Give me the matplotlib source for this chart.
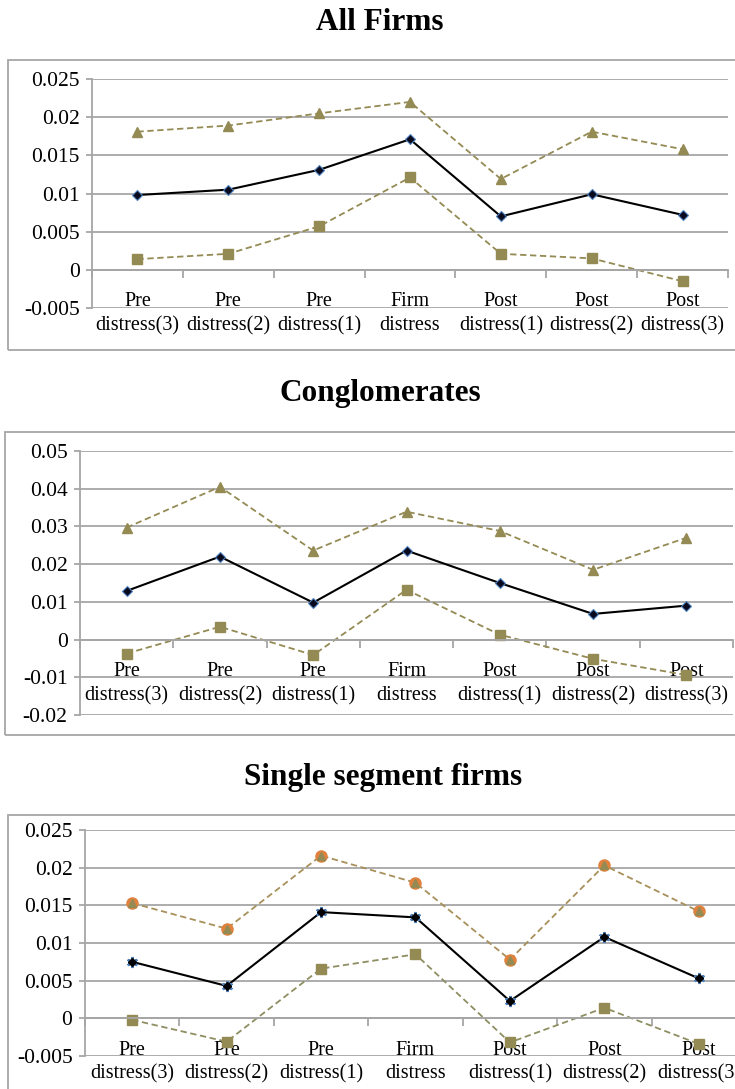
import numpy as np
import matplotlib
matplotlib.use("Agg")
import matplotlib.pyplot as plt
from matplotlib.patches import Rectangle
from matplotlib.ticker import FuncFormatter, FixedLocator

# Category labels along the event window
categories = ["Pre\ndistress(3)", "Pre\ndistress(2)", "Pre\ndistress(1)",
              "Firm\ndistress", "Post\ndistress(1)", "Post\ndistress(2)",
              "Post\ndistress(3)"]

# All firms: mean with upper and lower bounds
all_upper = [0.0181, 0.0189, 0.0205, 0.0220, 0.0119, 0.0181, 0.0158]
all_mean = [0.0098, 0.0105, 0.0131, 0.0171, 0.0070, 0.0099, 0.0072]
all_lower = [0.0014, 0.0021, 0.0057, 0.0121, 0.0021, 0.0015, -0.0015]

# Conglomerates
con_upper = [0.0297, 0.0405, 0.0236, 0.0339, 0.0288, 0.0185, 0.0270]
con_mean = [0.0129, 0.0220, 0.0098, 0.0236, 0.0150, 0.0068, 0.0090]
con_lower = [-0.0037, 0.0034, -0.0041, 0.0132, 0.0013, -0.0051, -0.0094]

# Single segment firms
ss_upper = [0.0153, 0.0119, 0.0216, 0.0180, 0.0078, 0.0203, 0.0142]
ss_mean = [0.0075, 0.0043, 0.0141, 0.0134, 0.0023, 0.0108, 0.0053]
ss_lower = [-0.0002, -0.0031, 0.0066, 0.0085, -0.0032, 0.0014, -0.0034]

W, H = 735, 1089
fig = plt.figure(figsize=(W / 100, H / 100), dpi=100)

serif = ["Liberation Serif", "DejaVu Serif"]
grid_c = "#A6A6A6"
olive = "#948A54"
dash = (0, (3.5, 2))


def px_axes(left, top, right, bottom):
    return fig.add_axes([left / W, 1 - bottom / H, (right - left) / W, (bottom - top) / H])


def box(left, top, right, bottom):
    fig.patches.append(Rectangle((left / W, 1 - bottom / H), (right - left) / W,
                                 (bottom - top) / H, transform=fig.transFigure,
                                 fill=False, edgecolor=grid_c, lw=1.3))


def setup(ax, ymin, ymax, step):
    n = len(categories)
    ax.set_xlim(0, n)
    ax.set_ylim(ymin, ymax)
    ax.set_facecolor("none")
    for s in ["top", "right"]:
        ax.spines[s].set_visible(False)
    ax.spines["left"].set_color(grid_c)
    ax.spines["left"].set_linewidth(1.3)
    ax.spines["bottom"].set_position(("data", 0))
    ax.spines["bottom"].set_color(grid_c)
    ax.spines["bottom"].set_linewidth(1.3)
    yt = np.round(np.arange(ymin, ymax + step / 2, step), 4)
    ax.set_yticks(yt)
    ax.yaxis.set_major_formatter(FuncFormatter(lambda v, p: "%g" % round(v, 4)))
    ax.yaxis.grid(True, color=grid_c, lw=1.3)
    ax.set_axisbelow(True)
    ax.tick_params(axis="y", length=4, color=grid_c, width=1.3, pad=5,
                   labelsize=15.5, labelfontfamily=serif)
    ax.xaxis.set_major_locator(FixedLocator(range(n + 1)))
    ax.xaxis.set_minor_locator(FixedLocator(np.arange(n) + 0.5))
    ax.set_xticklabels([], minor=False)
    ax.set_xticklabels(categories, minor=True)
    ax.tick_params(axis="x", which="major", direction="out", length=6,
                   color=grid_c, width=1.3)
    ax.tick_params(axis="x", which="minor", length=0, pad=16, labelsize=14.5,
                   labelfontfamily=serif)
    for t in ax.get_xticklabels(minor=True):
        t.set_linespacing(1.35)


def bounds(ax, x, upper, lower):
    ax.plot(x, upper, ls=dash, color=olive, lw=1.3, marker="^", ms=7,
            mfc=olive, mec=olive, clip_on=False)
    ax.plot(x, lower, ls=dash, color=olive, lw=1.3, marker="s", ms=6.5,
            mfc=olive, mec=olive, clip_on=False)


def mean_line(ax, x, mean, marker="D", ms=5):
    ax.plot(x, mean, color="black", lw=1.5, marker=marker, ms=ms,
            mfc="#0A0A1E", mec="#4F81BD", mew=0.8, clip_on=False)


x = np.arange(len(categories)) + 0.5

# All firms
box(8, 60, 760, 350)
ax1 = px_axes(92, 79, 728, 308)
setup(ax1, -0.005, 0.025, 0.005)
bounds(ax1, x, all_upper, all_lower)
mean_line(ax1, x, all_mean)
fig.text(380 / W, 1 - 22 / H, "All Firms", ha="center", va="center",
         fontsize=22.5, fontweight="bold", family=serif)

# Conglomerates
box(5, 432, 760, 735)
ax2 = px_axes(80, 451, 733, 715)
setup(ax2, -0.02, 0.05, 0.01)
bounds(ax2, x, con_upper, con_lower)
mean_line(ax2, x, con_mean)
fig.text(380 / W, 1 - 394 / H, "Conglomerates", ha="center", va="center",
         fontsize=22.5, fontweight="bold", family=serif)

# Single segment firms
box(8, 815, 760, 1120)
ax3 = px_axes(85, 830, 746, 1056)
setup(ax3, -0.005, 0.025, 0.005)
ax3.plot(x, ss_upper, ls=dash, color="#A8905A", lw=1.3, marker="o", ms=8,
         mfc="#E0823E", mec="#E0823E", clip_on=False)
ax3.plot(x, ss_upper, ls="none", marker="^", ms=5.5, mfc=olive, mec=olive,
         clip_on=False)
ax3.plot(x, ss_lower, ls=dash, color="#8E8E62", lw=1.3, marker="s", ms=6.5,
         mfc=olive, mec=olive, clip_on=False)
ax3.plot(x, ss_mean, color="black", lw=1.5, clip_on=False)
ax3.plot(x, ss_mean, ls="none", marker=(6, 2, 0), ms=8, mec="#4F81BD", mew=1.6,
         clip_on=False)
ax3.plot(x, ss_mean, ls="none", marker="D", ms=4, mfc="black", mec="black",
         clip_on=False)
fig.text(383 / W, 1 - 778 / H, "Single segment firms", ha="center",
         va="center", fontsize=22.5, fontweight="bold", family=serif)

fig.savefig("out.png", dpi=100)
